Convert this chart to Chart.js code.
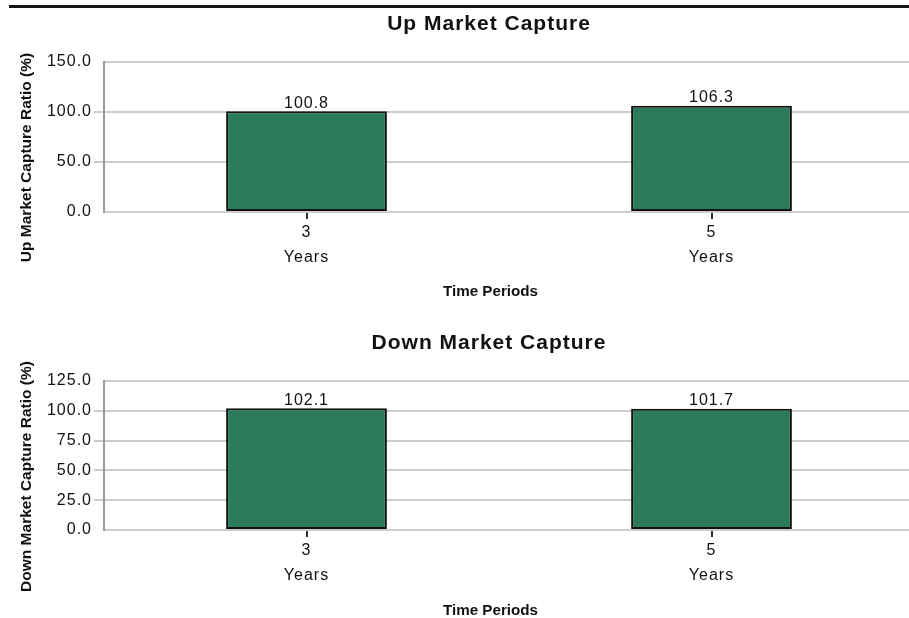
<!DOCTYPE html>
<html>
<head>
<meta charset="utf-8">
<title>Market Capture</title>
<script src="https://cdn.jsdelivr.net/npm/chart.js@4/dist/chart.umd.min.js"></script>
<style>
  html, body { margin: 0; padding: 0; background: #ffffff; overflow: hidden; width: 909px; height: 618px; }
  .rule { position: absolute; left: 9px; top: 5px; width: 900px; height: 3px; background: #151515; }
  canvas { position: absolute; left: 0; }
  #upChart { top: 0; }
  #downChart { top: 319px; }
</style>
</head>
<body>
<div class="rule"></div>
<canvas id="upChart" width="914" height="310"></canvas>
<canvas id="downChart" width="914" height="299"></canvas>
<script>
// Periods shown on the category axis (number on the first line, unit below)
const periodNumbers = ['3', '5'];
const periodUnit = 'Years';

// Capture ratios in percent
const upCapture = [100.8, 106.3];
const downCapture = [102.1, 101.7];

// Value axis ranges
const upAxisMax = 150;
const upAxisStep = 50;
const downAxisMax = 125;
const downAxisStep = 25;

const FONT = '"Liberation Sans", Arial, Helvetica, sans-serif';
const BAR_GREEN = '#2d7a5b';

// Draws the chart heading, the value axis heading and the category axis heading,
// plus the value printed on top of every bar.
const captureText = {
  id: 'captureText',
  beforeDraw(chart) {
    chart.ctx.letterSpacing = '1px';
  },
  afterDatasetsDraw(chart) {
    const ctx = chart.ctx;
    const meta = chart.getDatasetMeta(0);
    const values = chart.data.datasets[0].data;
    ctx.save();
    ctx.letterSpacing = '1px';
    ctx.font = '16px ' + FONT;
    ctx.fillStyle = '#111111';
    ctx.textAlign = 'center';
    ctx.textBaseline = 'alphabetic';
    meta.data.forEach((bar, i) => {
      ctx.fillText(values[i].toFixed(1), bar.x, bar.y - 3.5);
    });
    ctx.restore();
  },
  afterDraw(chart, args, opts) {
    const ctx = chart.ctx;
    ctx.save();
    ctx.fillStyle = '#111111';
    ctx.textAlign = 'center';
    ctx.textBaseline = 'alphabetic';

    ctx.letterSpacing = '1px';
    ctx.font = 'bold 21px ' + FONT;
    ctx.fillText(opts.title, 489, 30);

    ctx.letterSpacing = '0px';
    ctx.font = 'bold 15.2px ' + FONT;
    ctx.fillText('Time Periods', 490.5, 296);

    ctx.translate(27, 157.5);
    ctx.rotate(-Math.PI / 2);
    ctx.textBaseline = 'middle';
    ctx.font = 'bold 15.5px ' + FONT;
    ctx.fillText(opts.axisTitle, 0, 0);
    ctx.restore();
  }
};

function makeCaptureChart(canvasId, values, axisMax, axisStep, title, axisTitle, xAxisHeight) {
  return new Chart(document.getElementById(canvasId), {
    type: 'bar',
    data: {
      labels: periodNumbers.map(n => [n, periodUnit]),
      datasets: [{
        data: values,
        backgroundColor: BAR_GREEN,
        borderColor: '#111111',
        borderWidth: 2,
        borderSkipped: false,
        barPercentage: 0.397,
        categoryPercentage: 1
      }]
    },
    options: {
      responsive: false,
      animation: false,
      events: [],
      layout: { padding: { top: 62, left: 0, right: 0, bottom: 0 } },
      plugins: {
        legend: { display: false },
        tooltip: { enabled: false },
        title: { display: false },
        captureText: { title: title, axisTitle: axisTitle }
      },
      scales: {
        x: {
          offset: true,
          grid: {
            offset: false,
            drawOnChartArea: false,
            drawTicks: true,
            tickLength: 7,
            color: '#333333',
            lineWidth: 2
          },
          border: { display: false },
          ticks: {
            padding: 1,
            color: '#111111',
            maxRotation: 0,
            font: { family: FONT, size: 16, lineHeight: '25px' }
          },
          afterFit(scale) { scale.height = xAxisHeight; }
        },
        y: {
          min: 0,
          max: axisMax,
          grid: {
            color: '#cccccc',
            lineWidth: 2,
            tickLength: 10,
            tickColor: (c) => (c.tick && (c.tick.value === 0 || c.tick.value === axisMax)) ? 'rgba(0,0,0,0)' : '#cccccc'
          },
          border: { display: true, color: '#999999', width: 2 },
          ticks: {
            stepSize: axisStep,
            padding: 2,
            color: '#111111',
            font: { family: FONT, size: 16 },
            callback: (v) => Number(v).toFixed(1)
          },
          afterFit(scale) { scale.width = 104; }
        }
      }
    },
    plugins: [captureText]
  });
}

makeCaptureChart('upChart', upCapture, upAxisMax, upAxisStep,
  'Up Market Capture', 'Up Market Capture Ratio (%)', 98);
makeCaptureChart('downChart', downCapture, downAxisMax, downAxisStep,
  'Down Market Capture', 'Down Market Capture Ratio (%)', 88);
</script>
</body>
</html>
